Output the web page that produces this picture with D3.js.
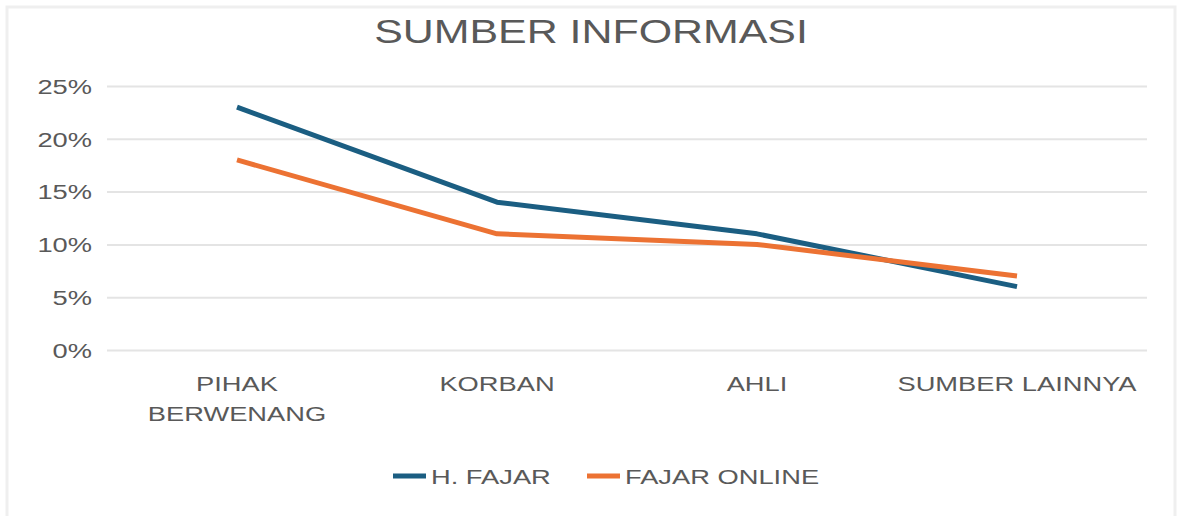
<!DOCTYPE html>
<html>
<head>
<meta charset="utf-8">
<script src="https://cdn.jsdelivr.net/npm/d3@7"></script>
<style>
  html, body { margin: 0; padding: 0; background: #fff; }
  svg { display: block; font-family: "Liberation Sans", Arial, sans-serif; }
  .lbl { fill: #595959; font-size: 21px; }
</style>
</head>
<body>
<svg id="chart" width="1177" height="516"></svg>
<script>
// ── Data ────────────────────────────────────────────
const categories = [['PIHAK', 'BERWENANG'], ['KORBAN'], ['AHLI'], ['SUMBER LAINNYA']];
const hFajar      = [0.23, 0.14, 0.11, 0.06];
const fajarOnline = [0.18, 0.11, 0.10, 0.07];
const yTicks      = [0, 0.05, 0.10, 0.15, 0.20, 0.25];
const series = [
  { name: 'H. FAJAR',     values: hFajar,      color: '#1b5e82' },
  { name: 'FAJAR ONLINE', values: fajarOnline, color: '#ec7233' }
];

// text in the reference is stretched horizontally
const SX = 1.3;

const svg = d3.select('#chart');

// chart border
svg.append('rect')
  .attr('x', 7).attr('y', 7)
  .attr('width', 1168).attr('height', 520)
  .attr('fill', '#fff')
  .attr('stroke', '#efefef')
  .attr('stroke-width', 3);

const keys = categories.map(c => c.join(' '));
const x = d3.scaleBand().domain(keys).range([107, 1147]);
const y = d3.scaleLinear().domain([0, 0.25]).range([350, 86]);

// ── Gridlines + y labels ─────────────────────────────
const yAxis = svg.append('g')
  .attr('transform', 'translate(107,0)')
  .call(d3.axisLeft(y)
    .tickValues(yTicks)
    .tickSize(-1040)
    .tickFormat(d3.format('.0%')));

yAxis.select('.domain').remove();
yAxis.selectAll('.tick line')
  .attr('stroke', '#e4e4e4')
  .attr('stroke-width', 2);
yAxis.selectAll('.tick text')
  .attr('class', 'lbl')
  .attr('fill', null)
  .style('font-size', '21px')
  .attr('x', -15 / SX)
  .attr('dy', '0.35em')
  .attr('transform', `scale(${SX},1)`);

// ── Category labels ──────────────────────────────────
const catG = svg.append('g');
categories.forEach((lines, i) => {
  const cx = x(keys[i]) + x.bandwidth() / 2;
  lines.forEach((ln, j) => {
    catG.append('text')
      .attr('class', 'lbl')
      .attr('text-anchor', 'middle')
      .attr('transform', `translate(${cx},${391 + j * 30}) scale(${SX},1)`)
      .text(ln);
  });
});

// ── Lines ────────────────────────────────────────────
const line = d3.line()
  .x((d, i) => x(keys[i]) + x.bandwidth() / 2)
  .y(d => y(d));

for (const s of series) {
  svg.append('path')
    .attr('d', line(s.values))
    .attr('fill', 'none')
    .attr('stroke', s.color)
    .attr('stroke-width', 5)
    .attr('stroke-linejoin', 'round');
}

// ── Title ────────────────────────────────────────────
svg.append('text')
  .attr('class', 'lbl')
  .attr('text-anchor', 'middle')
  .style('font-size', '33px')
  .attr('transform', `translate(591,43) scale(${SX},1)`)
  .text('SUMBER INFORMASI');

// ── Legend ───────────────────────────────────────────
const legendX = [393, 587];
series.forEach((s, i) => {
  const g = svg.append('g').attr('transform', `translate(${legendX[i]},476)`);
  g.append('line')
    .attr('x1', 0).attr('x2', 33)
    .attr('stroke', s.color)
    .attr('stroke-width', 5);
  g.append('text')
    .attr('class', 'lbl')
    .attr('transform', `translate(38,8) scale(${SX},1)`)
    .text(s.name);
});
</script>
</body>
</html>
